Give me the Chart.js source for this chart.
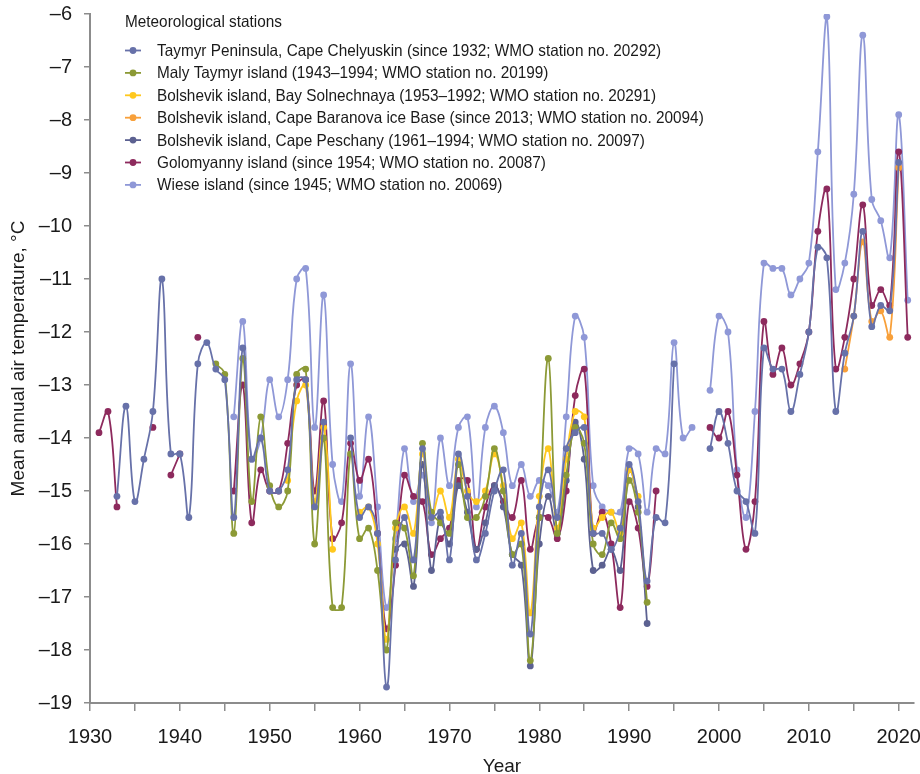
<!DOCTYPE html>
<html>
<head>
<meta charset="utf-8">
<script src="https://cdn.jsdelivr.net/npm/chart.js@4.4.1/dist/chart.umd.min.js"></script>
<style>
  html, body { margin: 0; padding: 0; background: #fff; }
  #wrap { width: 920px; height: 774px; }
</style>
</head>
<body>
<div id="wrap"><canvas id="tempChart" width="920" height="774"></canvas></div>
<script>
// Mean annual air temperature (°C), one value per year from each start year; null = no data
const chelyuskinStart = 1933;
const chelyuskin = [
  -15.1, -13.4, -15.2, -14.4, -13.5, -11.0, -14.3, -14.3, -15.5, -12.6,
  -12.2, -12.7, -12.9, -15.5, -12.3, -14.4, -14.0, -15.0, -15.0, -14.6,
  -12.9, -12.9, -15.3, -13.7, null, null, -14.0, -15.5, -15.3, -15.8,
  -18.7, -16.3, -15.5, -16.3, -14.2, -15.5, -15.4, -16.3, -14.3, -15.1,
  -16.3, -15.8, -15.0, -14.6, -16.4, -15.8, -17.7, -15.3, -14.6, -15.5,
  -14.2, -13.9, -13.8, -15.8, -15.8, -16.1, -15.7, -14.5, -15.2, -16.7,
  -15.5, -15.6, -12.6, null, null, null, -14.2, -13.5, -14.1, -15.0,
  -15.2, -15.8, -12.3, -12.7, -12.7, -13.5, -12.8, -12.0, -10.4, -10.6,
  -13.5, -12.4, -11.7, -10.1, -11.9, -11.5, -11.6, -8.8
];

const malyTaymyrStart = 1944;
const malyTaymyr = [
  -12.6, -12.8, -15.8, -12.5, -15.2, -13.6, -14.9, -15.3, -15.0, -12.8,
  -12.7, -16.0, -14.0, -17.2, -17.2, -14.3, -15.9, -15.7, -16.5, -18.0,
  -15.6, -15.7, -16.6, -14.1, -15.4, -15.6, -15.8, -14.5, -15.5, -15.5,
  -15.1, -14.2, -15.0, -16.2, -16.0, -18.2, -15.5, -12.5, -15.8, -14.7,
  -13.8, -14.1, -16.0, -16.2, -15.6, -15.9, -14.8, -15.4, -17.1
];

const solnechnayaStart = 1952;
const solnechnaya = [
  -14.8, -13.3, -13.0, -15.2, -13.8, -16.1, null, null, -15.4, -15.3,
  -16.0, -17.8, -15.7, -15.3, -15.8, -14.3, -15.5, -15.0, -15.5, -14.4,
  -15.0, -15.2, -15.0, -14.3, -14.9, -15.9, -15.6, -17.3, -15.1, -14.2,
  -15.7, -14.4, -13.5, -13.6, -15.7, -15.5, -15.4, -15.8, -14.6, -15.1
];

const baranovaStart = 2014;
const baranova = [-12.7, -11.7, -10.3, -11.8, -11.6, -12.1, -8.9];

const peschanyStart = 1964;
const peschany = [
  -16.1, -16.0, -16.8, -14.5, -16.5, -15.5, -16.0, -14.9, -15.4, -16.1,
  -15.6, -14.9, -15.3, -16.2, -16.4, -18.3, -16.0, -15.1, -15.8, -14.8,
  -13.7, -14.4, -16.5, -16.4, -16.1, -16.5, -14.6, -15.3, -17.5
];

const golomyannyStart = 1931;
const golomyanny = [
  -13.9, -13.5, -15.3, null, null, null, -13.8, null, -14.7, -14.3,
  null, -12.1, null, null, null, -15.0, -13.0, -15.6, -14.6, -15.0,
  -15.0, -14.1, -13.0, -12.9, -15.0, -13.3, -15.9, -15.6, -14.1, -14.8,
  -14.4, -15.8, -17.6, -16.4, -14.7, -15.1, -15.2, -16.2, -15.9, -15.7,
  -14.8, -14.8, -16.1, -15.3, -14.9, -15.2, -15.5, -14.8, -16.1, -15.5,
  -15.5, -15.9, -15.0, -13.2, -12.7, -15.8, -15.4, -16.0, -17.2, -15.2,
  -15.7, -16.8, -15.0, null, null, null, null, null, -13.8, -14.0,
  -13.5, -14.7, -16.1, -15.2, -11.8, -12.8, -12.3, -13.0, -12.6, -12.0,
  -10.1, -9.3, -12.7, -12.1, -11.0, -9.6, -11.5, -11.2, -11.5, -8.6,
  -12.1
];

const wieseStart = 1946;
const wiese = [
  -13.6, -11.8, -14.4, -14.0, -12.9, -13.6, -12.9, -11.0, -10.8, -13.8,
  -11.3, -14.5, -15.2, -12.6, -15.1, -13.6, -15.3, -17.2, -15.9, -14.2,
  -15.2, -14.7, -15.6, -14.0, -14.9, -13.8, -13.6, -15.3, -13.8, -13.4,
  -13.9, -14.9, -14.5, -15.1, -14.8, -14.9, -15.4, -13.6, -11.7, -12.1,
  -14.9, -15.3, -15.4, -15.4, -14.2, -14.3, -15.4, -14.2, -14.3, -12.2,
  -14.0, -13.8, null, -13.1, -11.7, -12.0, -14.6, -15.5, -13.5, -10.7,
  -10.8, -10.8, -11.3, -11.0, -10.7, -8.6, -6.05, -11.2, -10.7, -9.4,
  -6.4, -9.5, -9.9, -10.6, -7.9, -11.4
];

const stationNames = [
  'Taymyr Peninsula, Cape Chelyuskin (since 1932; WMO station no. 20292)',
  'Maly Taymyr island (1943\u20131994; WMO station no. 20199)',
  'Bolshevik island, Bay Solnechnaya (1953\u20131992; WMO station no. 20291)',
  'Bolshevik island, Cape Baranova ice Base (since 2013; WMO station no. 20094)',
  'Bolshevik island, Cape Peschany (1961\u20131994; WMO station no. 20097)',
  'Golomyanny island (since 1954; WMO station no. 20087)',
  'Wiese island (since 1945; WMO station no. 20069)'
];
const stationColors = ['#6771a9', '#8c9a36', '#ffc81e', '#f8a03a', '#5c6191', '#8d2a5d', '#8f98d7'];

const yearMin = 1930;
const yearMax = 2021.7;
const yearTicks = [1930, 1935, 1940, 1945, 1950, 1955, 1960, 1965, 1970, 1975,
  1980, 1985, 1990, 1995, 2000, 2005, 2010, 2015, 2020];
const tempMin = -19;
const tempMax = -6;

const FONT = "'Liberation Sans', Arial, sans-serif";
const AXIS_GREY = '#8c8c8c';

function toPoints(start, values) {
  return values.map((v, i) => ({ x: start + i, y: v }));
}

const seriesList = [
  toPoints(chelyuskinStart, chelyuskin),
  toPoints(malyTaymyrStart, malyTaymyr),
  toPoints(solnechnayaStart, solnechnaya),
  toPoints(baranovaStart, baranova),
  toPoints(peschanyStart, peschany),
  toPoints(golomyannyStart, golomyanny),
  toPoints(wieseStart, wiese)
];

const datasets = seriesList.map((pts, i) => ({
  label: stationNames[i],
  data: pts,
  borderColor: stationColors[i],
  backgroundColor: stationColors[i],
  pointBackgroundColor: stationColors[i],
  pointBorderWidth: 0,
  pointRadius: 3.4,
  borderWidth: 1.8,
  tension: 0.4,
  spanGaps: false,
  fill: false
}));

// legend drawn inside the plot, top-left, like the original figure
// (text squeezed a little, the original uses a narrow face)
const stationLegend = {
  id: 'stationLegend',
  afterDraw(chart) {
    const ctx = chart.ctx;
    const squeeze = 0.93;
    ctx.save();
    ctx.textBaseline = 'middle';
    ctx.textAlign = 'left';
    ctx.font = '16.5px ' + FONT;

    ctx.save();
    ctx.translate(125, 22.5);
    ctx.scale(squeeze, 1);
    ctx.fillStyle = '#1a1a1a';
    ctx.fillText('Meteorological stations', 0, 0);
    ctx.restore();

    chart.data.datasets.forEach((ds, i) => {
      const y = 50.5 + i * 22.4;
      ctx.strokeStyle = ds.borderColor;
      ctx.lineWidth = 1.8;
      ctx.beginPath();
      ctx.moveTo(125, y);
      ctx.lineTo(141, y);
      ctx.stroke();
      ctx.fillStyle = ds.borderColor;
      ctx.beginPath();
      ctx.arc(133, y, 3.4, 0, Math.PI * 2);
      ctx.fill();

      ctx.save();
      ctx.translate(157, y + 1);
      ctx.scale(squeeze, 1);
      ctx.fillStyle = '#1a1a1a';
      ctx.fillText(ds.label, 0, 0);
      ctx.restore();
    });
    ctx.restore();
  }
};

new Chart(document.getElementById('tempChart'), {
  type: 'line',
  data: { datasets },
  plugins: [stationLegend],
  options: {
    responsive: false,
    animation: false,
    layout: { padding: { top: 14, right: 6, left: 0, bottom: 0 } },
    plugins: {
      legend: { display: false },
      tooltip: { enabled: false }
    },
    scales: {
      x: {
        type: 'linear',
        min: yearMin,
        max: yearMax,
        border: { display: true, color: AXIS_GREY, width: 2 },
        grid: { drawOnChartArea: false, drawTicks: true, tickLength: 8, color: AXIS_GREY, lineWidth: 1.5 },
        afterBuildTicks: (scale) => {
          scale.ticks = yearTicks.map(v => ({ value: v }));
        },
        ticks: {
          autoSkip: false,
          maxRotation: 0,
          padding: 14,
          color: '#1a1a1a',
          font: { family: FONT, size: 20 },
          callback: (value) => (value % 10 === 0 ? String(value) : '')
        },
        title: {
          display: true,
          text: 'Year',
          color: '#1a1a1a',
          font: { family: FONT, size: 19 },
          padding: { top: 4, bottom: -4 }
        },
        afterFit: (scale) => {
          scale.height = 71;
          scale.paddingLeft = 0;
          scale.paddingRight = 0;
        }
      },
      y: {
        min: tempMin,
        max: tempMax,
        border: { display: true, color: AXIS_GREY, width: 2 },
        grid: { drawOnChartArea: false, drawTicks: true, tickLength: 6, color: AXIS_GREY, lineWidth: 1.5 },
        ticks: {
          stepSize: 1,
          padding: 12,
          color: '#1a1a1a',
          font: { family: FONT, size: 20 },
          callback: (value) => (value < 0 ? '\u2013' + Math.abs(value) : String(value))
        },
        title: {
          display: true,
          text: 'Mean annual air temperature, \u00b0C',
          color: '#1a1a1a',
          font: { family: FONT, size: 19 },
          padding: { top: 7, bottom: 0 }
        },
        afterFit: (scale) => {
          scale.width = 90;
          scale.paddingTop = 0;
          scale.paddingBottom = 0;
        }
      }
    }
  }
});
</script>
</body>
</html>
